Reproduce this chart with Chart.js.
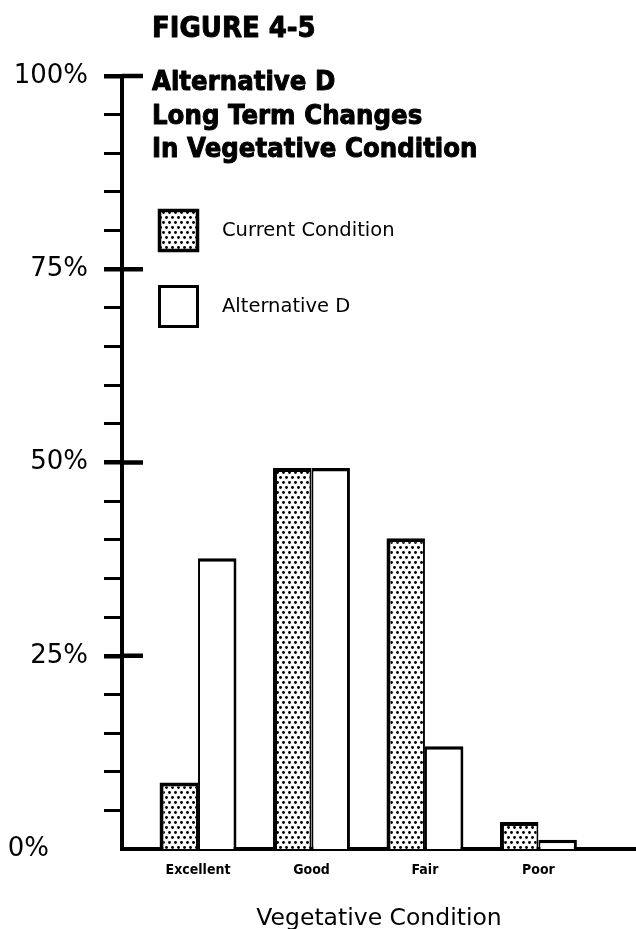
<!DOCTYPE html>
<html><head><meta charset="utf-8">
<script src="https://cdn.jsdelivr.net/npm/chart.js@4"></script>
<style>html,body{margin:0;padding:0;background:#fff;}#wrap{width:636px;height:929px;position:relative}</style>
</head><body><div id="wrap"><canvas id="c" width="636" height="929"></canvas></div>
<script>
const categories = ['Excellent', 'Good', 'Fair', 'Poor'];
const currentCondition = [8.6, 49.3, 40.2, 3.5];
const alternativeD = [37.6, 49.3, 13.3, 1.2];
const seriesNames = ['Current Condition', 'Alternative D'];
const yMajorLabels = ['0%', '25%', '50%', '75%', '100%'];
const titleLines = ['FIGURE 4-5', 'Alternative D', 'Long Term Changes', 'In Vegetative Condition'];
const xAxisTitle = 'Vegetative Condition';

const canvas = document.getElementById('c');
const mainCtx = canvas.getContext('2d');
function stipple() {
  const c = document.createElement('canvas'); c.width = 6; c.height = 10;
  const g = c.getContext('2d');
  g.fillStyle = '#fff'; g.fillRect(0, 0, 6, 10);
  g.fillStyle = '#000';
  g.beginPath(); g.arc(1.5, 2.5, 1.45, 0, Math.PI * 2); g.fill();
  g.beginPath(); g.arc(4.5, 7.5, 1.45, 0, Math.PI * 2); g.fill();
  return mainCtx.createPattern(c, 'repeat');
}
const dots = stipple();

function heavyText(ctx, text, x, y, sy) {
  ctx.save();
  ctx.translate(x, y); ctx.scale(1, sy);
  ctx.lineWidth = 0.9; ctx.lineJoin = 'round'; ctx.strokeStyle = '#000';
  ctx.strokeText(text, 0, 0); ctx.fillText(text, 0, 0);
  ctx.restore();
}

const decor = {
  id: 'decor',
  afterDraw(chart) {
    const { ctx, chartArea: a, scales: { y } } = chart;
    ctx.save();
    ctx.strokeStyle = '#000'; ctx.lineWidth = 4.5;
    y.ticks.forEach(t => {
      if (t.value % 25 === 0 && t.value > 0) {
        const py = y.getPixelForValue(t.value);
        ctx.beginPath(); ctx.moveTo(a.left, py); ctx.lineTo(a.left + 21, py); ctx.stroke();
      }
    });
    // legend
    const ds = chart.data.datasets;
    const boxes = [[159.5, 210.5, 38, 40, 3.5], [159.5, 286.5, 38, 40, 3]];
    const textY = [231, 307];
    ctx.font = '19.5px "DejaVu Sans"'; ctx.textBaseline = 'middle'; ctx.textAlign = 'left';
    boxes.forEach((b, i) => {
      ctx.fillStyle = ds[i].backgroundColor;
      ctx.fillRect(b[0], b[1], b[2], b[3]);
      ctx.lineWidth = b[4]; ctx.strokeStyle = '#000';
      ctx.strokeRect(b[0], b[1], b[2], b[3]);
      ctx.fillStyle = '#000';
      ctx.fillText(ds[i].label, 222, textY[i]);
    });
    // titles
    ctx.fillStyle = '#000'; ctx.textBaseline = 'alphabetic';
    ctx.font = 'bold 26px "DejaVu Sans"';
    heavyText(ctx, titleLines[0], 152, 37, 1.12);
    ctx.font = 'bold 24.5px "DejaVu Sans"';
    titleLines.slice(1).forEach((t, i) => heavyText(ctx, t, 152, 90 + i * 33.5, 1.12));
    ctx.restore();
  }
};

new Chart(canvas, {
  type: 'bar',
  data: {
    datasets: [
      { label: seriesNames[0], data: categories.map((c, i) => ({ x: i, y: currentCondition[i] })),
        backgroundColor: dots, borderColor: '#000', borderWidth: { top: 4, left: 4, right: 2, bottom: 0 } },
      { label: seriesNames[1], data: categories.map((c, i) => ({ x: i, y: alternativeD[i] })),
        backgroundColor: '#fff', borderColor: '#000', borderWidth: { top: 3.5, left: 2, right: 3, bottom: 0 } }
    ]
  },
  options: {
    responsive: false, animation: false, devicePixelRatio: 1,
    categoryPercentage: 0.678, barPercentage: 1.0,
    layout: { padding: { top: 76, left: 0, right: 0, bottom: 0 } },
    plugins: { legend: { display: false }, tooltip: { enabled: false } },
    scales: {
      x: {
        type: 'linear', min: -0.67, max: 3.86, offset: false,
        afterBuildTicks: s => { s.ticks = categories.map((c, i) => ({ value: i })); },
        ticks: { callback: v => categories[v] ?? '', autoSkip: false, maxRotation: 0, padding: 13, color: '#000',
                 font: { family: '"DejaVu Sans Condensed", "DejaVu Sans"', size: 14, weight: 'bold' } },
        grid: { display: false, drawTicks: false },
        border: { display: true, width: 4, color: '#000' },
        title: { display: true, text: xAxisTitle, color: '#000', font: { family: 'DejaVu Sans', size: 23.5 }, padding: { top: 20, bottom: -4 } },
        afterFit: s => { s.height = 80; }
      },
      y: {
        min: 0, max: 100,
        ticks: { stepSize: 5, autoSkip: false, padding: 16, color: '#000',
                 font: { family: 'DejaVu Sans', size: 26 },
                 callback: v => v % 25 === 0 ? (v === 0 ? yMajorLabels[0] + '\u2002\u2002\u2002' : yMajorLabels[v / 25]) : '' },
        grid: { drawOnChartArea: false, drawTicks: true, tickLength: 18, color: '#000',
                lineWidth: c => (c.tick && c.tick.value === 0) ? 0 : (c.tick && c.tick.value % 25 === 0 ? 4.5 : 3) },
        border: { width: 4, color: '#000' },
        afterFit: s => { s.width = 122; }
      }
    }
  },
  plugins: [decor]
});
</script></body></html>
